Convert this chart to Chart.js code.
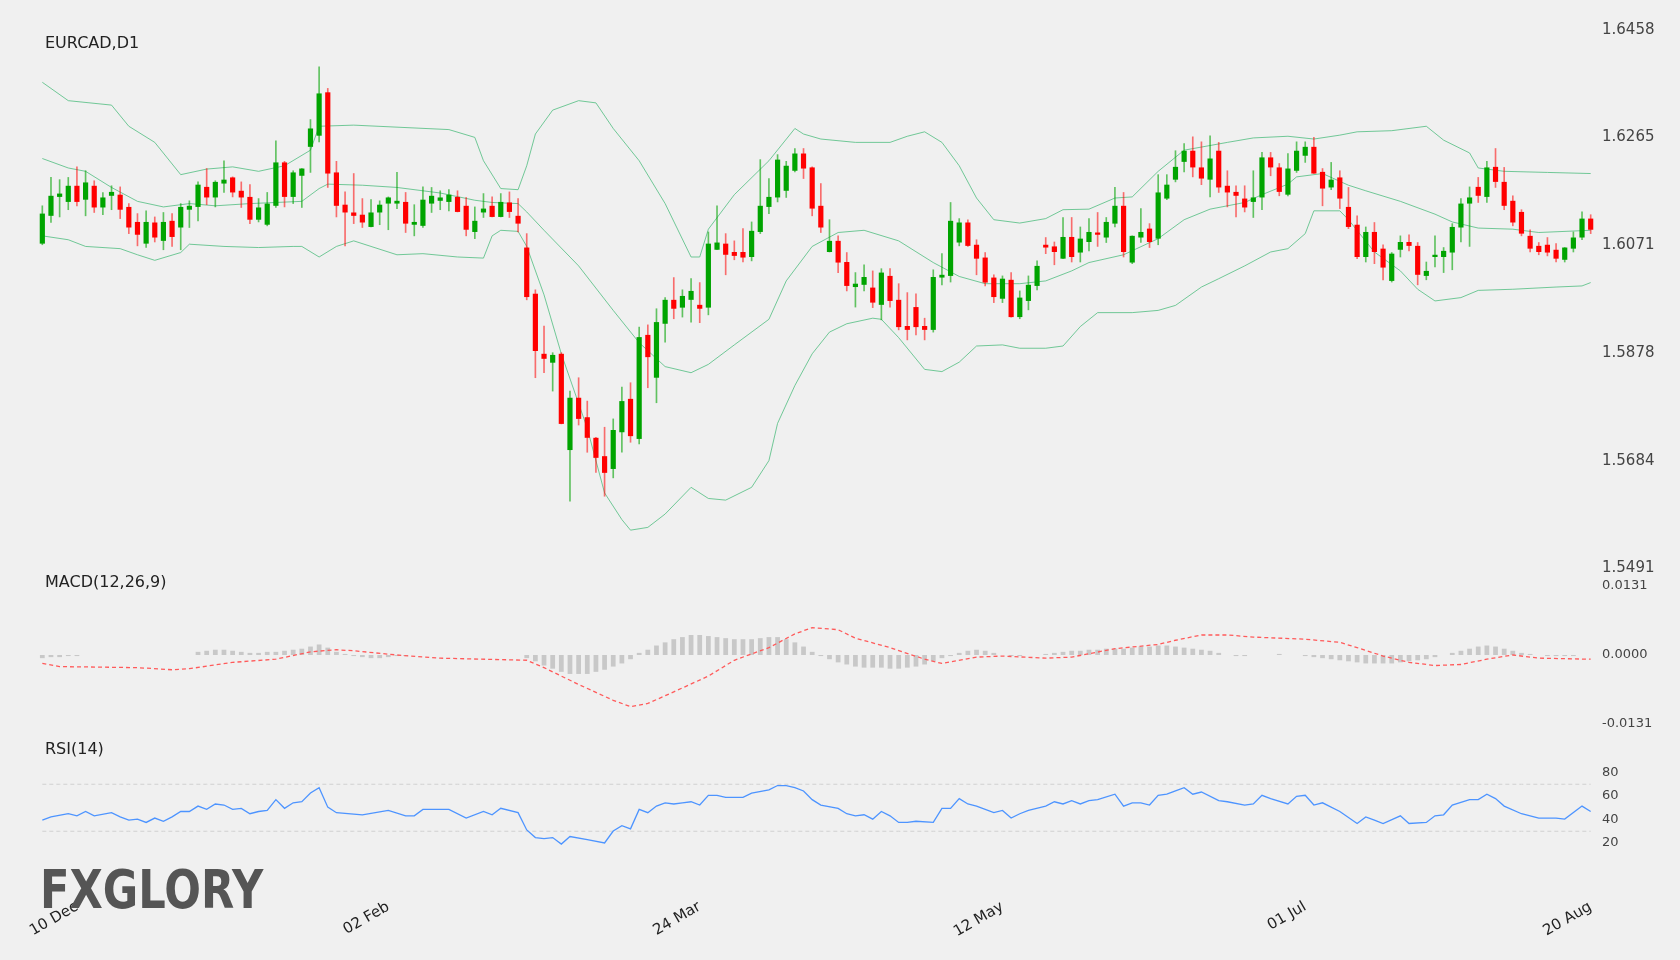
<!DOCTYPE html>
<html>
<head>
<meta charset="utf-8">
<script src="https://cdn.jsdelivr.net/npm/chart.js@4.4.1/dist/chart.umd.min.js"></script>
<style>
  body{margin:0;background:#f0f0f0;font-family:"DejaVu Sans",sans-serif;}
  #wrap{position:relative;width:1680px;height:960px;overflow:hidden;}
  canvas{position:absolute;left:0;top:0;}
  .lbl{position:absolute;font-size:16px;color:#222;}
  #logo{position:absolute;left:40px;top:858px;font-size:54px;font-weight:bold;color:#555;transform:scaleX(0.8);transform-origin:left top;}
</style>
</head>
<body>
<div id="wrap">
  <canvas id="price" width="1680" height="960"></canvas>
  <canvas id="macd" width="1680" height="960"></canvas>
  <canvas id="rsi" width="1680" height="960"></canvas>
  <div class="lbl" style="left:45px;top:33px">EURCAD,D1</div>
  <div class="lbl" style="left:45px;top:572px">MACD(12,26,9)</div>
  <div class="lbl" style="left:45px;top:739px">RSI(14)</div>
  <div id="logo">FXGLORY</div>
</div>
<script>
// x axis
var xTickIdx = [4, 40, 76, 111, 146, 179];
var xTickText = ['10 Dec', '02 Feb', '24 Mar', '12 May', '01 Jul', '20 Aug'];
var priceTicks = [1.6458, 1.6265, 1.6071, 1.5878, 1.5684, 1.5491];
var macdTicks = [0.0131, 0, -0.0131];
var rsiTicks = [80, 60, 40, 20];

// candles
var open = [1.6074,1.6124,1.6158,1.6149,1.6178,1.6153,1.6178,1.6139,1.6160,1.6162,
1.6140,1.6113,1.6074,1.6112,1.6079,1.6115,1.6103,1.6135,1.6140,1.6176,
1.6157,1.6182,1.6193,1.6169,1.6158,1.6117,1.6108,1.6142,1.6220,1.6158,
1.6196,1.6248,1.6268,1.6346,1.6202,1.6144,1.6130,1.6126,1.6104,1.6130,
1.6146,1.6146,1.6149,1.6108,1.6106,1.6146,1.6151,1.6149,1.6158,1.6142,
1.6095,1.6130,1.6142,1.6122,1.6148,1.6124,1.6067,1.5984,1.5876,1.5860,
1.5876,1.5703,1.5797,1.5762,1.5725,1.5692,1.5669,1.5735,1.5795,1.5723,
1.5910,1.5833,1.5930,1.5973,1.5959,1.5973,1.5964,1.5959,1.6063,1.6074,
1.6059,1.6059,1.6050,1.6095,1.6140,1.6157,1.6169,1.6205,1.6236,1.6211,
1.6142,1.6059,1.6079,1.6041,1.5996,1.6000,1.5995,1.5964,1.6016,1.5973,
1.5926,1.5960,1.5926,1.5919,1.6013,1.6016,1.6076,1.6112,1.6072,1.6049,
1.6013,1.5975,1.6009,1.5942,1.5971,1.5998,1.6072,1.6069,1.6047,1.6086,
1.6058,1.6077,1.6094,1.6085,1.6110,1.6142,1.6040,1.6085,1.6101,1.6083,
1.6155,1.6189,1.6221,1.6241,1.6211,1.6189,1.6241,1.6178,1.6167,1.6155,
1.6149,1.6157,1.6229,1.6211,1.6162,1.6205,1.6232,1.6248,1.6203,1.6175,
1.6193,1.6140,1.6108,1.6050,1.6095,1.6065,1.6007,1.6063,1.6077,1.6070,
1.6016,1.6050,1.6050,1.6058,1.6103,1.6146,1.6176,1.6158,1.6212,1.6185,
1.6151,1.6131,1.6088,1.6070,1.6072,1.6063,1.6045,1.6065,1.6085,1.6119];
var high = [1.6142,1.6193,1.6189,1.6193,1.6212,1.6205,1.6187,1.6166,1.6178,1.6176,
1.6146,1.6128,1.6133,1.6122,1.6130,1.6128,1.6146,1.6151,1.6185,1.6209,
1.6187,1.6223,1.6194,1.6185,1.6180,1.6155,1.6166,1.6259,1.6222,1.6205,
1.6209,1.6297,1.6392,1.6353,1.6222,1.6167,1.6200,1.6155,1.6153,1.6151,
1.6158,1.6202,1.6166,1.6144,1.6176,1.6175,1.6169,1.6171,1.6169,1.6157,
1.6140,1.6164,1.6158,1.6164,1.6167,1.6155,1.6092,1.5991,1.5926,1.5878,
1.5878,1.5809,1.5833,1.5791,1.5726,1.5744,1.5759,1.5816,1.5824,1.5924,
1.5928,1.5957,1.5977,1.6013,1.5991,1.6011,1.6004,1.6095,1.6142,1.6092,
1.6079,1.6101,1.6113,1.6225,1.6191,1.6234,1.6222,1.6245,1.6245,1.6212,
1.6182,1.6117,1.6088,1.6058,1.6022,1.6036,1.6025,1.6029,1.6029,1.6002,
1.5986,1.5984,1.5940,1.6027,1.6056,1.6148,1.6119,1.6117,1.6081,1.6058,
1.6018,1.6016,1.6022,1.5989,1.6016,1.6043,1.6085,1.6077,1.6121,1.6121,
1.6104,1.6119,1.6130,1.6121,1.6175,1.6166,1.6088,1.6137,1.6110,1.6198,
1.6198,1.6241,1.6254,1.6266,1.6257,1.6268,1.6256,1.6205,1.6178,1.6178,
1.6205,1.6238,1.6238,1.6218,1.6236,1.6257,1.6257,1.6265,1.6209,1.6220,
1.6205,1.6175,1.6124,1.6104,1.6112,1.6072,1.6058,1.6088,1.6090,1.6076,
1.6041,1.6088,1.6067,1.6110,1.6155,1.6176,1.6193,1.6222,1.6245,1.6211,
1.6160,1.6135,1.6099,1.6076,1.6085,1.6074,1.6067,1.6095,1.6131,1.6126];
var low = [1.6072,1.6112,1.6122,1.6135,1.6142,1.6124,1.6130,1.6126,1.6135,1.6119,
1.6092,1.6070,1.6067,1.6077,1.6063,1.6069,1.6063,1.6103,1.6115,1.6144,
1.6140,1.6166,1.6158,1.6139,1.6110,1.6113,1.6106,1.6139,1.6140,1.6146,
1.6139,1.6202,1.6257,1.6175,1.6122,1.6070,1.6110,1.6103,1.6104,1.6108,
1.6099,1.6137,1.6094,1.6088,1.6103,1.6130,1.6135,1.6133,1.6131,1.6088,
1.6083,1.6121,1.6122,1.6122,1.6121,1.6095,1.5973,1.5833,1.5842,1.5809,
1.5750,1.5611,1.5748,1.5699,1.5663,1.5620,1.5653,1.5699,1.5717,1.5714,
1.5815,1.5788,1.5897,1.5939,1.5942,1.5933,1.5932,1.5946,1.6063,1.6018,
1.6045,1.6041,1.6043,1.6092,1.6128,1.6149,1.6157,1.6203,1.6191,1.6124,
1.6094,1.6059,1.6022,1.5989,1.5960,1.5989,1.5959,1.5937,1.5960,1.5919,
1.5901,1.5910,1.5901,1.5915,1.6000,1.6005,1.6070,1.6069,1.6018,1.5998,
1.5968,1.5968,1.5942,1.5939,1.5955,1.5991,1.6056,1.6036,1.6047,1.6041,
1.6041,1.6061,1.6069,1.6076,1.6104,1.6050,1.6038,1.6076,1.6067,1.6072,
1.6153,1.6185,1.6203,1.6194,1.6180,1.6158,1.6166,1.6140,1.6122,1.6131,
1.6121,1.6135,1.6196,1.6160,1.6160,1.6202,1.6220,1.6200,1.6142,1.6171,
1.6137,1.6101,1.6047,1.6041,1.6038,1.6009,1.6005,1.6050,1.6061,1.6000,
1.6009,1.6032,1.6022,1.6027,1.6077,1.6069,1.6148,1.6148,1.6175,1.6135,
1.6106,1.6088,1.6059,1.6054,1.6052,1.6041,1.6041,1.6059,1.6081,1.6092];
var close = [1.6128,1.6160,1.6164,1.6178,1.6149,1.6184,1.6139,1.6157,1.6167,1.6135,
1.6103,1.6090,1.6113,1.6085,1.6113,1.6086,1.6140,1.6142,1.6180,1.6157,
1.6185,1.6189,1.6166,1.6157,1.6117,1.6139,1.6146,1.6220,1.6158,1.6202,
1.6209,1.6281,1.6344,1.6200,1.6142,1.6130,1.6124,1.6112,1.6130,1.6144,
1.6157,1.6151,1.6110,1.6113,1.6153,1.6160,1.6157,1.6162,1.6131,1.6099,
1.6115,1.6137,1.6122,1.6149,1.6131,1.6110,1.5978,1.5881,1.5867,1.5874,
1.5750,1.5797,1.5759,1.5725,1.5689,1.5662,1.5739,1.5791,1.5728,1.5906,
1.5870,1.5933,1.5973,1.5957,1.5980,1.5989,1.5957,1.6074,1.6076,1.6054,
1.6052,1.6049,1.6097,1.6142,1.6158,1.6225,1.6214,1.6236,1.6209,1.6137,
1.6103,1.6079,1.6040,1.5998,1.6002,1.6014,1.5968,1.6022,1.5971,1.5924,
1.5919,1.5924,1.5919,1.6014,1.6018,1.6115,1.6112,1.6070,1.6047,1.6004,
1.5978,1.6011,1.5942,1.5977,1.6000,1.6034,1.6067,1.6059,1.6086,1.6050,
1.6083,1.6095,1.6090,1.6113,1.6142,1.6059,1.6088,1.6095,1.6077,1.6166,
1.6180,1.6212,1.6241,1.6211,1.6191,1.6227,1.6175,1.6166,1.6160,1.6139,
1.6157,1.6229,1.6211,1.6167,1.6209,1.6241,1.6248,1.6200,1.6173,1.6189,
1.6155,1.6104,1.6050,1.6095,1.6059,1.6031,1.6056,1.6077,1.6070,1.6018,
1.6025,1.6054,1.6061,1.6104,1.6146,1.6157,1.6160,1.6211,1.6185,1.6142,
1.6112,1.6092,1.6065,1.6059,1.6058,1.6047,1.6067,1.6085,1.6119,1.6099];

// Bollinger bands, read at sampled candles [index, value]
var bbUpper = [[0,1.6364],[3,1.6331],[8,1.6323],[10,1.6285],[13,1.6256],[16,1.6198],[19,1.6208],[22,1.6212],[25,1.6204],[28,1.6214],[31,1.6242],[32,1.6285],[36,1.6287],[47,1.6279],[50,1.6265],[51,1.6223],[53,1.6173],[55,1.6171],[56,1.6214],[57,1.6271],[59,1.6314],[62,1.6331],[64,1.6327],[66,1.6281],[69,1.6223],[72,1.6146],[75,1.6050],[76,1.6050],[77,1.6100],[80,1.6162],[84,1.6223],[87,1.6281],[88,1.6271],[90,1.6262],[94,1.6256],[98,1.6256],[100,1.6267],[102,1.6275],[104,1.6256],[106,1.6214],[108,1.6156],[110,1.6117],[113,1.6111],[116,1.6119],[118,1.6135],[121,1.6136],[124,1.6156],[126,1.6158],[129,1.6204],[132,1.6242],[137,1.6256],[140,1.6264],[144,1.6267],[147,1.6262],[150,1.6269],[152,1.6275],[156,1.6277],[160,1.6285],[162,1.6260],[165,1.6237],[166,1.6210],[169,1.6204],[174,1.6202],[179,1.6200]];
var bbMiddle = [[0,1.6227],[3,1.6210],[5,1.6204],[8,1.6175],[11,1.6150],[14,1.6140],[17,1.6146],[20,1.6142],[24,1.6146],[27,1.6148],[30,1.6150],[32,1.6173],[33,1.6181],[37,1.6179],[41,1.6175],[46,1.6165],[50,1.6152],[52,1.6148],[55,1.6146],[56,1.6131],[58,1.6098],[62,1.6034],[66,1.5954],[69,1.5896],[72,1.5853],[75,1.5842],[77,1.5857],[80,1.5892],[84,1.5938],[86,1.6007],[89,1.6069],[92,1.6094],[95,1.6098],[99,1.6079],[103,1.6040],[106,1.6015],[109,1.6002],[113,1.6002],[116,1.6007],[119,1.6025],[121,1.6040],[125,1.6054],[129,1.6083],[132,1.6117],[135,1.6136],[139,1.6148],[141,1.6162],[144,1.6181],[145,1.6194],[148,1.6200],[151,1.6179],[153,1.6169],[157,1.6150],[161,1.6127],[163,1.6113],[166,1.6102],[170,1.6100],[173,1.6094],[179,1.6098]];
var bbLower = [[0,1.6088],[3,1.6081],[5,1.6069],[9,1.6065],[11,1.6054],[13,1.6044],[16,1.6058],[17,1.6073],[21,1.6069],[25,1.6067],[29,1.6069],[30,1.6069],[32,1.6050],[34,1.6069],[36,1.6079],[41,1.6054],[44,1.6056],[48,1.6050],[51,1.6048],[52,1.6088],[53,1.6098],[55,1.6096],[56,1.6069],[58,1.5982],[60,1.5876],[63,1.5742],[65,1.5626],[67,1.5578],[68,1.5559],[70,1.5564],[72,1.5588],[75,1.5636],[77,1.5616],[79,1.5613],[82,1.5636],[84,1.5684],[85,1.5751],[87,1.5819],[89,1.5876],[91,1.5915],[93,1.5930],[96,1.5940],[97,1.5938],[99,1.5905],[102,1.5848],[104,1.5844],[106,1.5861],[108,1.5890],[111,1.5892],[113,1.5886],[116,1.5886],[118,1.5890],[120,1.5925],[122,1.5950],[126,1.5950],[129,1.5954],[131,1.5963],[134,1.5996],[136,1.6011],[139,1.6034],[142,1.6059],[144,1.6065],[146,1.6092],[147,1.6133],[150,1.6133],[151,1.6117],[154,1.6059],[157,1.6025],[159,1.5992],[161,1.5971],[164,1.5977],[166,1.5990],[170,1.5992],[175,1.5996],[178,1.5998],[179,1.6004]];

// MACD histogram (one per candle) and signal line samples
var macdHist = [-0.0006,-0.0004,-0.0004,-0.0002,-0.0002,
0,0,0,0,0,0,0,0,0,0,0,0,0,
0.0006,0.0008,0.0010,0.0010,0.0008,0.0006,0.0004,0.0004,0.0006,0.0006,0.0008,0.0010,0.0012,
0.0016,0.0020,0.0014,
0.0006,0.0002,-0.0002,
-0.0004,-0.0006,-0.0006,-0.0004,-0.0002,-0.0002,
0,0,0,0,0,0,0,0,0,0,0,0,0,
-0.0006,-0.0012,-0.0020,-0.0026,-0.0032,-0.0036,-0.0036,-0.0036,-0.0032,-0.0028,-0.0022,-0.0016,-0.0008,
0.0004,0.0010,0.0018,0.0024,0.0030,0.0034,0.0038,0.0038,0.0036,0.0034,0.0032,0.0030,0.0030,0.0030,0.0032,0.0034,0.0034,0.0030,0.0024,0.0016,0.0006,-0.0002,
-0.0008,-0.0014,-0.0018,-0.0022,-0.0024,-0.0024,-0.0024,-0.0026,-0.0026,-0.0024,-0.0022,-0.0018,-0.0012,-0.0006,-0.0002,
0.0004,0.0008,0.0010,0.0008,0.0004,
0,-0.0002,-0.0002,0,0,0.0002,0.0004,
0.0006,0.0008,0.0008,0.0010,0.0010,0.0012,0.0012,0.0012,0.0014,0.0016,0.0016,0.0018,0.0018,0.0016,0.0014,0.0012,0.0010,0.0008,
0.0004,0,-0.0002,-0.0002,0,0,0,0.0002,0,0,-0.0002,-0.0004,
-0.0006,-0.0008,-0.0010,-0.0012,-0.0014,-0.0016,-0.0016,-0.0016,-0.0016,-0.0014,-0.0012,-0.0010,-0.0008,
-0.0004,0,0.0004,0.0008,0.0012,0.0016,0.0018,0.0016,0.0012,0.0008,
0.0004,0.0002,0,-0.0002,-0.0002,-0.0002,-0.0002,0,0];
var macdSignal = [[0,-0.0016],[2,-0.0022],[11,-0.0024],[15,-0.0028],[17,-0.0026],[22,-0.0014],[27,-0.0008],[31,0.0006],[34,0.0010],[36,0.0008],[41,0],[46,-0.0006],[56,-0.0010],[58,-0.0024],[62,-0.0056],[66,-0.0086],[68,-0.0098],[70,-0.0092],[73,-0.0070],[77,-0.0040],[80,-0.0010],[84,0.0014],[87,0.0040],[89,0.0052],[92,0.0048],[94,0.0032],[98,0.0014],[102,-0.0008],[104,-0.0016],[108,-0.0004],[111,-0.0002],[116,-0.0006],[119,-0.0004],[124,0.0012],[129,0.0020],[131,0.0028],[134,0.0038],[137,0.0038],[140,0.0034],[146,0.0030],[150,0.0024],[152,0.0014],[155,-0.0002],[158,-0.0014],[161,-0.0020],[164,-0.0018],[167,-0.0008],[170,0],[173,-0.0006],[179,-0.0008]];

// RSI(14) samples
var rsi14 = [[0,39.4],[1,42.2],[3,44.9],[4,43.1],[5,46.8],[6,43.1],[8,45.8],[9,42.2],[10,39.4],[11,40.3],[12,37.5],[13,41.2],[14,38.5],[15,42.2],[16,46.8],[17,46.8],[18,51.4],[19,48.6],[20,53.2],[21,52.3],[22,48.6],[23,49.5],[24,44.9],[25,46.8],[26,47.7],[27,56.9],[28,49.5],[29,54.2],[30,55.1],[31,62.5],[32,67.1],[33,50.5],[34,45.8],[37,44.0],[40,47.7],[42,43.1],[43,43.1],[44,48.6],[46,48.6],[47,48.6],[49,41.2],[51,46.8],[52,44.0],[53,49.5],[55,45.8],[56,31.1],[57,24.6],[58,23.7],[59,24.6],[60,19.1],[61,25.5],[63,22.8],[65,20.0],[66,30.2],[67,34.8],[68,32.0],[69,48.6],[70,45.8],[71,51.4],[72,54.2],[73,53.2],[74,54.2],[75,55.1],[76,52.3],[77,60.6],[78,60.6],[79,58.8],[81,58.8],[82,62.5],[84,65.2],[85,68.9],[86,68.9],[87,67.1],[88,64.3],[89,56.9],[90,52.3],[92,49.5],[93,44.9],[94,43.1],[95,44.0],[96,40.3],[97,46.8],[98,43.1],[99,37.5],[100,37.5],[101,38.5],[103,37.5],[104,49.5],[105,49.5],[106,57.8],[107,53.2],[108,51.4],[110,45.8],[111,47.7],[112,41.2],[113,44.9],[114,47.7],[116,51.4],[117,55.1],[118,53.2],[119,56.0],[120,53.2],[121,56.0],[122,56.9],[124,61.5],[125,51.4],[126,54.2],[127,54.2],[128,52.3],[129,60.6],[130,61.5],[131,64.3],[132,67.1],[133,61.5],[134,63.4],[136,56.0],[137,55.1],[139,52.3],[140,53.2],[141,60.6],[142,57.8],[144,53.2],[145,59.7],[146,60.6],[147,52.3],[148,54.2],[150,46.8],[152,36.6],[153,42.2],[154,39.4],[155,36.6],[157,43.1],[158,36.6],[160,37.5],[161,43.1],[162,44.0],[163,52.3],[165,56.9],[166,56.9],[167,61.5],[168,57.8],[169,51.4],[171,44.9],[173,41.2],[175,41.2],[176,40.3],[178,51.4],[179,46.8]];
var rsiUpper = 70, rsiLower = 30;

var N = open.length;
var labels = [];
for (var i = 0; i < N; i++) {
    var k = xTickIdx.indexOf(i);
    labels.push(k >= 0 ? xTickText[k] : '');
}
function spread(pairs) {
    var a = new Array(N).fill(null);
    pairs.forEach(function (p) { a[p[0]] = p[1]; });
    return a;
}

var GREEN = '#00a400', RED = '#ff0000';
var upDown = open.map(function (o, i) { return close[i] >= o; });
var bodyColor = upDown.map(function (u) { return u ? GREEN : RED; });
var wickColor = upDown.map(function (u) { return u ? 'rgba(0,164,0,0.6)' : 'rgba(255,0,0,0.55)'; });

var FONT = '"DejaVu Sans", sans-serif';

function rightAxis(ticks, fmt, size, min, max) {
    return {
        position: 'right', min: min, max: max,
        grid: { display: false, drawTicks: false }, border: { display: false },
        afterFit: function (s) { s.width = 85; },
        afterBuildTicks: function (s) { s.ticks = ticks.map(function (v) { return { value: v }; }); },
        ticks: { padding: 7, color: '#444', font: { family: FONT, size: size }, callback: fmt }
    };
}
function hiddenX() {
    return { type: 'category', labels: labels, display: false, offset: true, grid: { display: false } };
}
var base = {
    responsive: false, animation: false, devicePixelRatio: 1,
    plugins: { legend: { display: false }, tooltip: { enabled: false } }
};
function bandSet(pairs) {
    return { type: 'line', data: spread(pairs), borderColor: 'rgba(70,185,120,0.75)', borderWidth: 1,
        pointRadius: 0, spanGaps: true, tension: 0, order: 3 };
}

new Chart(document.getElementById('price'), {
    type: 'bar',
    data: {
        labels: labels,
        datasets: [
            { data: open.map(function (o, i) { return [o, close[i]]; }), backgroundColor: bodyColor,
              barPercentage: 0.6, categoryPercentage: 1, grouped: false, order: 1 },
            { data: low.map(function (l, i) { return [l, high[i]]; }), backgroundColor: wickColor,
              barThickness: 1, grouped: false, order: 2 },
            bandSet(bbUpper), bandSet(bbMiddle), bandSet(bbLower)
        ]
    },
    options: Object.assign({}, base, {
        layout: { padding: { left: 38, top: 30, bottom: 392, right: 0 } },
        scales: { x: hiddenX(), y: rightAxis(priceTicks, function (v) { return v.toFixed(4); }, 15, 1.5491, 1.6458) }
    })
});

new Chart(document.getElementById('macd'), {
    type: 'bar',
    data: {
        labels: labels,
        datasets: [
            { data: macdHist, backgroundColor: '#c8c8c8', barPercentage: 0.55, categoryPercentage: 1, order: 2 },
            { type: 'line', data: spread(macdSignal), borderColor: '#ff5a5a', borderWidth: 1.3, borderDash: [4, 3],
              pointRadius: 0, spanGaps: true, order: 1 }
        ]
    },
    options: Object.assign({}, base, {
        layout: { padding: { left: 38, top: 586, bottom: 236, right: 0 } },
        scales: { x: hiddenX(), y: rightAxis(macdTicks, function (v) { return v.toFixed(4); }, 13, -0.0131, 0.0131) }
    })
});

new Chart(document.getElementById('rsi'), {
    type: 'line',
    data: {
        labels: labels,
        datasets: [
            { data: spread(rsi14), borderColor: '#4d94ff', borderWidth: 1.3, pointRadius: 0, spanGaps: true },
            { data: labels.map(function () { return rsiUpper; }), borderColor: '#d0d0d0', borderWidth: 1, borderDash: [4, 3], pointRadius: 0 },
            { data: labels.map(function () { return rsiLower; }), borderColor: '#d0d0d0', borderWidth: 1, borderDash: [4, 3], pointRadius: 0 }
        ]
    },
    options: Object.assign({}, base, {
        layout: { padding: { left: 38, top: 749, bottom: 11, right: 0 } },
        scales: {
            x: { type: 'category', labels: labels, offset: true, grid: { display: false, drawTicks: false }, border: { display: false },
                 ticks: { autoSkip: false, minRotation: 30, maxRotation: 30, padding: 8, color: '#222', font: { family: FONT, size: 15 } } },
            y: rightAxis(rsiTicks, function (v) { return v; }, 13, -20, 100)
        }
    })
});
</script>
</body>
</html>
